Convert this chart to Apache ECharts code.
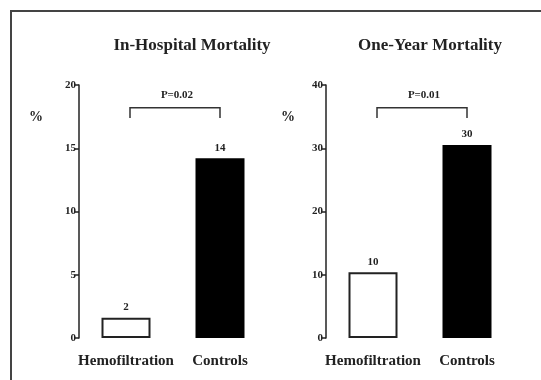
<!DOCTYPE html>
<html>
<head>
<meta charset="utf-8">
<script src="https://cdn.jsdelivr.net/npm/echarts@6/dist/echarts.min.js"></script>
<style>
  html, body { margin: 0; padding: 0; background: #fff; }
  #main { width: 541px; height: 380px; }
</style>
</head>
<body>
<div id="main"></div>
<script>
var categories = ['Hemofiltration', 'Controls'];
var hospitalValues = [1.6, 14.2];
var hospitalLabels = ['2', '14'];
var yearValues = [10.4, 30.5];
var yearLabels = ['10', '30'];
var panelTitles = ['In-Hospital Mortality', 'One-Year Mortality'];
var pValues = ['P=0.02', 'P=0.01'];
var bracketTop = [18.2, 36.4];
var bracketEnd = [17.4, 34.8];

var FONT = '"Liberation Serif", "DejaVu Serif", serif';
var chart = echarts.init(document.getElementById('main'));

function barData(values) {
    return values.map(function (v, i) {
        return {
            value: v,
            itemStyle: i === 0
                ? { color: '#fff', borderColor: '#222', borderWidth: 2 }
                : { color: '#000' }
        };
    });
}

function yAxis(grid, max, step) {
    return {
        type: 'value', gridIndex: grid, min: 0, max: max, interval: step,
        axisLine: { show: true, lineStyle: { color: '#222', width: 1.5 } },
        axisTick: { show: true, length: 5, lineStyle: { color: '#222', width: 1.5 } },
        axisLabel: { color: '#222', fontFamily: FONT, fontWeight: 'bold', fontSize: 11, margin: 3 },
        splitLine: { show: false }
    };
}

function xAxis(grid) {
    return {
        type: 'category', gridIndex: grid, data: categories,
        axisLine: { show: false }, axisTick: { show: false },
        axisLabel: { interval: 0, color: '#222', fontFamily: FONT, fontWeight: 'bold', fontSize: 15, margin: 16 }
    };
}

function barSeries(idx, values, labels) {
    return {
        type: 'bar', xAxisIndex: idx, yAxisIndex: idx, barWidth: 49,
        data: barData(values),
        label: {
            show: true, position: 'top', distance: 5,
            color: '#222', fontFamily: FONT, fontWeight: 'bold', fontSize: 11,
            formatter: function (p) { return labels[p.dataIndex]; }
        }
    };
}

var option = {
    animation: false,
    backgroundColor: '#fff',
    title: [
        { text: panelTitles[0], left: 187, top: 32, textAlign: 'center',
          textStyle: { color: '#222', fontFamily: FONT, fontWeight: 'bold', fontSize: 17 } },
        { text: panelTitles[1], left: 425, top: 32, textAlign: 'center',
          textStyle: { color: '#222', fontFamily: FONT, fontWeight: 'bold', fontSize: 17 } }
    ],
    grid: [
        { left: 79, top: 85, width: 188, bottom: 42 },
        { left: 326, top: 85, width: 188, bottom: 42 }
    ],
    xAxis: [xAxis(0), xAxis(1)],
    yAxis: [yAxis(0, 20, 5), yAxis(1, 40, 10)],
    series: [barSeries(0, hospitalValues, hospitalLabels), barSeries(1, yearValues, yearLabels)]
};

chart.setOption(option);

// frame, % labels and significance brackets
var elements = [
    { type: 'polyline', shape: { points: [[11, 400], [11, 11], [560, 11]] },
      style: { stroke: '#444', lineWidth: 2, fill: null } },
    { type: 'text', x: 36, y: 117, style: { text: '%', fill: '#222', font: 'bold 14px ' + FONT, align: 'center', verticalAlign: 'middle' } },
    { type: 'text', x: 288, y: 117, style: { text: '%', fill: '#222', font: 'bold 14px ' + FONT, align: 'center', verticalAlign: 'middle' } }
];
[0, 1].forEach(function (i) {
    var f = { xAxisIndex: i, yAxisIndex: i };
    var a = chart.convertToPixel(f, [0, bracketTop[i]]);
    var b = chart.convertToPixel(f, [1, bracketTop[i]]);
    var e = chart.convertToPixel(f, [0, bracketEnd[i]]);
    var x0 = a[0] + 4, x1 = b[0];
    elements.push({ type: 'polyline', shape: { points: [[x0, e[1]], [x0, a[1]], [x1, a[1]], [x1, e[1]]] },
        style: { stroke: '#333', lineWidth: 1.5, fill: null } });
    elements.push({ type: 'text', x: (x0 + x1) / 2 + 2, y: a[1] - 13,
        style: { text: pValues[i], fill: '#222', font: 'bold 11px ' + FONT, align: 'center', verticalAlign: 'middle' } });
});
chart.setOption({ graphic: elements });

window.addEventListener('resize', function () {
    chart.resize();
});
</script>
</body>
</html>
